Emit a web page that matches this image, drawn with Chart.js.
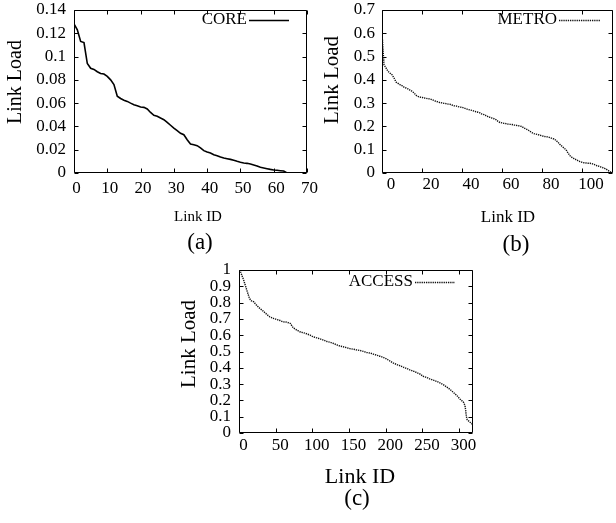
<!DOCTYPE html>
<html>
<head>
<meta charset="utf-8">
<title>Link load per network layer</title>
<script src="https://cdn.jsdelivr.net/npm/chart.js@4.4.1/dist/chart.umd.min.js"></script>
<style>
  body { margin: 0; background: #fff; }
  #figure { position: relative; width: 616px; height: 523px; overflow: hidden; }
  #figure canvas { position: absolute; }
</style>
</head>
<body>
<div id="figure">
  <canvas id="coreChart" width="330" height="260" style="left:0;top:0"></canvas>
  <canvas id="metroChart" width="306" height="260" style="left:310px;top:0"></canvas>
  <canvas id="accessChart" width="330" height="263" style="left:160px;top:260px"></canvas>
</div>
<script>
// Load of every link, sorted from the busiest link down (index = link ID)
const coreLoad = [
  0.128, 0.123, 0.113, 0.112, 0.094, 0.090, 0.089, 0.087, 0.0855, 0.085,
  0.083, 0.080, 0.076, 0.066, 0.064, 0.0625, 0.0615, 0.060, 0.0587, 0.0578,
  0.0567, 0.0564, 0.055, 0.052, 0.0495, 0.0487, 0.0472, 0.0458, 0.0435, 0.041,
  0.0386, 0.0364, 0.0341, 0.0329, 0.0286, 0.0249, 0.0243, 0.0235, 0.0215, 0.0192,
  0.018, 0.0172, 0.0157, 0.0149, 0.0137, 0.0129, 0.0123, 0.0117, 0.0109, 0.010,
  0.0092, 0.0086, 0.0083, 0.0077, 0.0069, 0.006, 0.0049, 0.0043, 0.0037, 0.0031,
  0.0026, 0.0023, 0.002, 0.0017, 0, 0, 0, 0, 0, 0, 0
];

const metroLoad = [
  0.601, 0.465, 0.451, 0.437, 0.429, 0.422, 0.408, 0.391, 0.385, 0.379,
  0.375, 0.369, 0.365, 0.361, 0.356, 0.351, 0.344, 0.334, 0.329, 0.326,
  0.325, 0.322, 0.321, 0.319, 0.318, 0.315, 0.311, 0.308, 0.305, 0.302,
  0.301, 0.299, 0.298, 0.296, 0.295, 0.292, 0.289, 0.288, 0.285, 0.283,
  0.282, 0.279, 0.276, 0.273, 0.271, 0.269, 0.266, 0.263, 0.261, 0.258,
  0.253, 0.251, 0.246, 0.242, 0.239, 0.236, 0.233, 0.229, 0.222, 0.217,
  0.215, 0.213, 0.212, 0.210, 0.209, 0.208, 0.206, 0.205, 0.203, 0.202,
  0.199, 0.193, 0.189, 0.185, 0.179, 0.173, 0.169, 0.167, 0.165, 0.162,
  0.160, 0.157, 0.156, 0.155, 0.152, 0.149, 0.146, 0.140, 0.132, 0.122,
  0.115, 0.107, 0.100, 0.086, 0.074, 0.067, 0.062, 0.057, 0.053, 0.049,
  0.046, 0.044, 0.043, 0.042, 0.042, 0.040, 0.037, 0.033, 0.030, 0.027,
  0.024, 0.021, 0.017, 0.011, 0.006, 0.000
];

// access links are many, so only a subset of link IDs is listed
const accessIds = [
  0, 2, 6, 9, 11, 14, 16, 20, 24, 29, 33, 38, 42, 47, 51, 56, 60, 65, 70, 74,
  79, 83, 88, 92, 97, 101, 106, 110, 115, 120, 124, 129, 133, 138, 142, 147, 151, 156, 160, 165,
  170, 174, 179, 183, 188, 192, 197, 201, 206, 210, 215, 220, 224, 229, 233, 238, 242, 247, 251, 256,
  260, 265, 270, 274, 279, 283, 288, 292, 297, 301, 306, 308, 309, 310, 311, 315, 319
];
const accessLoad = [
  1.0, 0.99, 0.943, 0.90, 0.871, 0.830, 0.813, 0.805, 0.783, 0.762, 0.748, 0.727, 0.713, 0.703, 0.697, 0.690, 0.682, 0.680, 0.672, 0.645,
  0.631, 0.621, 0.615, 0.609, 0.600, 0.590, 0.584, 0.578, 0.570, 0.561, 0.557, 0.549, 0.541, 0.533, 0.529, 0.523, 0.518, 0.514, 0.510, 0.506,
  0.500, 0.494, 0.490, 0.484, 0.477, 0.471, 0.463, 0.455, 0.441, 0.430, 0.420, 0.412, 0.404, 0.395, 0.387, 0.379, 0.371, 0.361, 0.348, 0.340,
  0.332, 0.324, 0.316, 0.307, 0.295, 0.283, 0.266, 0.250, 0.230, 0.209, 0.189, 0.170, 0.140, 0.100, 0.082, 0.066, 0.051
];

// tick marks of each panel
const coreXTicks = [0, 10, 20, 30, 40, 50, 60, 70];
const coreYTicks = [0, 0.02, 0.04, 0.06, 0.08, 0.1, 0.12, 0.14];
const metroXTicks = [0, 20, 40, 60, 80, 100];
const metroYTicks = [0, 0.1, 0.2, 0.3, 0.4, 0.5, 0.6, 0.7];
const accessXTicks = [0, 50, 100, 150, 200, 250, 300];
const accessYTicks = [0, 0.1, 0.2, 0.3, 0.4, 0.5, 0.6, 0.7, 0.8, 0.9, 1];

const SERIF = '"Liberation Serif", "Times New Roman", serif';

// plot box with gnuplot-style inward ticks on all four sides
const frame = {
  id: 'frame',
  beforeDatasetsDraw(chart) {
    const {ctx, chartArea: a, scales: {x, y}} = chart;
    const L = Math.round(a.left) + 0.5, R = Math.round(a.right) - 0.5;
    const T = Math.round(a.top) + 0.5, B = Math.round(a.bottom) - 0.5;
    const len = 4;
    ctx.save();
    ctx.strokeStyle = '#000';
    ctx.lineWidth = 1;
    ctx.beginPath();
    ctx.rect(L, T, R - L, B - T);
    x.ticks.forEach(t => {
      const px = Math.round(x.getPixelForValue(t.value)) + 0.5;
      ctx.moveTo(px, B); ctx.lineTo(px, B - len);
      ctx.moveTo(px, T); ctx.lineTo(px, T + len);
    });
    y.ticks.forEach(t => {
      const py = Math.round(y.getPixelForValue(t.value)) + 0.5;
      ctx.moveTo(L, py); ctx.lineTo(L + len, py);
      ctx.moveTo(R, py); ctx.lineTo(R - len, py);
    });
    ctx.stroke();
    ctx.restore();
  }
};

// axis titles, sub-figure caption and the key (label followed by a line sample)
const figureText = {
  id: 'figureText',
  afterDraw(chart, args, o) {
    const {ctx} = chart;
    const ds = chart.data.datasets[0];
    ctx.save();
    ctx.fillStyle = '#000';
    ctx.textBaseline = 'middle';
    ctx.textAlign = 'center';

    ctx.font = o.xTitle.size + 'px ' + SERIF;
    ctx.fillText(o.xTitle.text, o.xTitle.x, o.xTitle.y);

    ctx.font = o.caption.size + 'px ' + SERIF;
    ctx.fillText(o.caption.text, o.caption.x, o.caption.y);

    ctx.save();
    ctx.translate(o.yTitle.x, o.yTitle.y);
    ctx.rotate(-Math.PI / 2);
    ctx.font = o.yTitle.size + 'px ' + SERIF;
    ctx.fillText(o.yTitle.text, 0, 0);
    ctx.restore();

    ctx.textAlign = 'right';
    ctx.font = o.key.size + 'px ' + SERIF;
    ctx.fillText(ds.label, o.key.x, o.key.y);
    ctx.strokeStyle = ds.borderColor;
    ctx.lineWidth = ds.borderWidth;
    ctx.setLineDash(ds.borderDash || []);
    ctx.beginPath();
    ctx.moveTo(o.key.x + 2, o.key.y + 0.5);
    ctx.lineTo(o.key.x + 2 + o.key.len, o.key.y + 0.5);
    ctx.stroke();
    ctx.restore();
  }
};

function makeChart(id, p) {
  return new Chart(document.getElementById(id), {
    type: 'line',
    data: {
      datasets: [{
        label: p.label,
        data: p.points,
        borderColor: p.color,
        borderWidth: p.width,
        borderDash: p.dash,
        pointRadius: 0,
        tension: 0,
        fill: false
      }]
    },
    options: {
      responsive: false,
      animation: false,
      devicePixelRatio: 1,
      layout: { padding: { left: 0, top: 10, right: p.padRight, bottom: 0 } },
      plugins: {
        legend: { display: false },
        tooltip: { enabled: false },
        figureText: p.text
      },
      scales: {
        x: {
          type: 'linear',
          min: p.xMin, max: p.xMax,
          grid: { display: false, drawTicks: false },
          border: { display: false },
          afterBuildTicks: s => { s.ticks = p.xTicks.map(v => ({ value: v })); },
          afterFit: s => { s.height = p.xHeight; s.paddingLeft = 0; s.paddingRight = 0; },
          ticks: {
            color: '#000',
            font: { family: SERIF, size: 17 },
            padding: p.xPad,
            labelOffset: p.xLabelShift,
            maxRotation: 0,
            autoSkip: false,
            callback: v => String(v)
          }
        },
        y: {
          min: p.yMin, max: p.yMax,
          grid: { display: false, drawTicks: false },
          border: { display: false },
          afterBuildTicks: s => { s.ticks = p.yTicks.map(v => ({ value: v })); },
          afterFit: s => { s.width = p.yWidth; s.paddingTop = 0; s.paddingBottom = 0; },
          ticks: {
            color: '#000',
            font: { family: SERIF, size: 17 },
            padding: p.yPad,
            autoSkip: false,
            callback: v => String(v)
          }
        }
      }
    },
    plugins: [frame, figureText]
  });
}

// (a) core
makeChart('coreChart', {
  label: 'CORE',
  points: coreLoad.map((v, i) => ({ x: i, y: v })),
  color: '#000', width: 1.6, dash: [],
  xMin: 0, xMax: 70, yMin: 0, yMax: 0.14,
  xTicks: coreXTicks, yTicks: coreYTicks,
  yWidth: 74, xHeight: 87, padRight: 23,
  xPad: 5, yPad: 8, xLabelShift: 2.5,
  text: {
    yTitle: { text: 'Link Load', x: 16, y: 82, size: 20 },
    xTitle: { text: 'Link ID', x: 198, y: 217, size: 15 },
    caption: { text: '(a)', x: 200, y: 243, size: 23 },
    key: { x: 247, y: 20, len: 40, size: 17 }
  }
});

// (b) metro
makeChart('metroChart', {
  label: 'METRO',
  points: metroLoad.map((v, i) => ({ x: i, y: v })),
  color: '#111', width: 1.4, dash: [1.3, 0.9],
  xMin: 0, xMax: 115.5, yMin: 0, yMax: 0.7,
  xTicks: metroXTicks, yTicks: metroYTicks,
  yWidth: 72, xHeight: 87, padRight: 3,
  xPad: 1, yPad: 7, xLabelShift: 9,
  text: {
    yTitle: { text: 'Link Load', x: 22, y: 80, size: 21 },
    xTitle: { text: 'Link ID', x: 198, y: 218, size: 17 },
    caption: { text: '(b)', x: 206, y: 245, size: 23 },
    key: { x: 247, y: 20, len: 41, size: 17 }
  }
});

// (c) access
makeChart('accessChart', {
  label: 'ACCESS',
  points: accessLoad.map((v, i) => ({ x: accessIds[i], y: v })),
  color: '#111', width: 1.4, dash: [1.3, 0.9],
  xMin: 0, xMax: 319, yMin: 0, yMax: 1,
  xTicks: accessXTicks, yTicks: accessYTicks,
  yWidth: 79, xHeight: 90, padRight: 17,
  xPad: 2, yPad: 8, xLabelShift: 4.5,
  text: {
    yTitle: { text: 'Link Load', x: 29, y: 84, size: 21 },
    xTitle: { text: 'Link ID', x: 200, y: 217, size: 22 },
    caption: { text: '(c)', x: 197, y: 239, size: 23 },
    key: { x: 253, y: 22, len: 40, size: 17 }
  }
});
</script>
</body>
</html>
